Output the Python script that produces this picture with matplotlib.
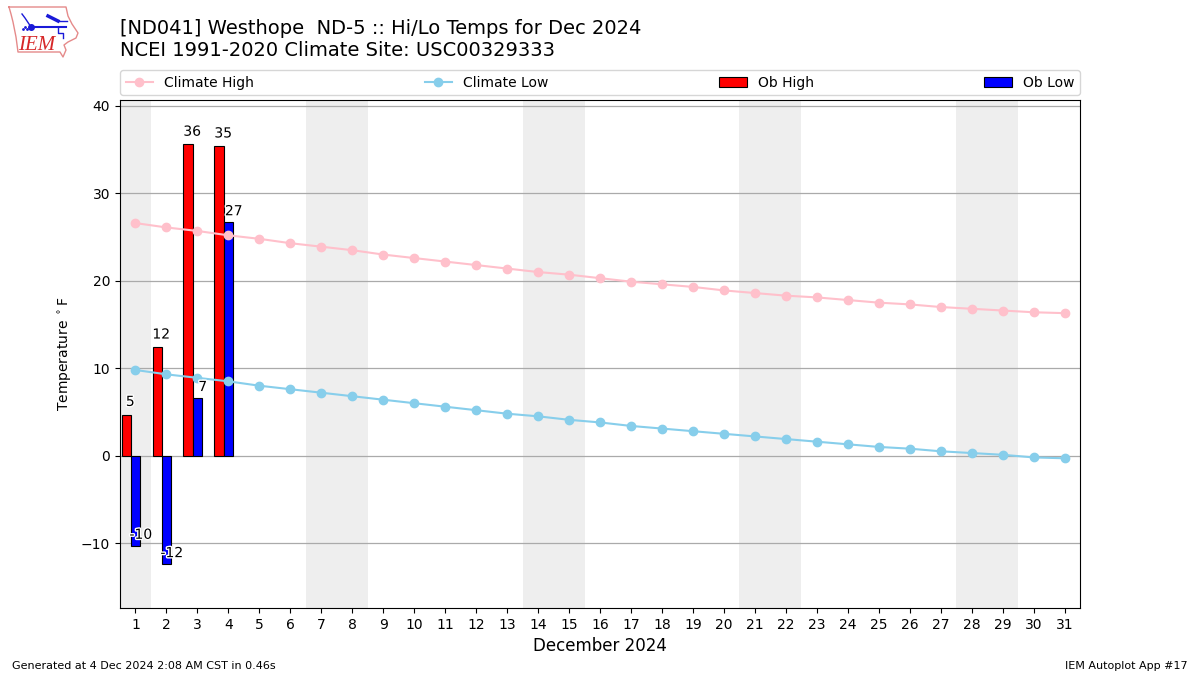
import matplotlib
matplotlib.use('Agg')
import matplotlib.pyplot as plt
import matplotlib.patheffects as pe

# Data
days = list(range(1, 32))
climate_high = [26.6, 26.1, 25.7, 25.2, 24.8, 24.3, 23.9, 23.5, 23.0, 22.6, 22.2,
                21.8, 21.4, 21.0, 20.7, 20.3, 19.9, 19.6, 19.3, 18.9, 18.6, 18.3,
                18.1, 17.8, 17.5, 17.3, 17.0, 16.8, 16.6, 16.4, 16.3]
climate_low = [9.8, 9.3, 8.9, 8.5, 8.0, 7.6, 7.2, 6.8, 6.4, 6.0, 5.6, 5.2, 4.8,
               4.5, 4.1, 3.8, 3.4, 3.1, 2.8, 2.5, 2.2, 1.9, 1.6, 1.3, 1.0, 0.8,
               0.5, 0.3, 0.1, -0.2, -0.3]
ob_days = [1, 2, 3, 4]
ob_high = [4.7, 12.4, 35.6, 35.4]
ob_low = [-10.3, -12.4, 6.6, 26.7]
weekends = [(0.5, 1.5), (6.5, 8.5), (13.5, 15.5), (20.5, 22.5), (27.5, 29.5)]

# Logo outline, in logo pixels
iowa_x = [9, 66, 68, 72, 78, 76, 68, 64, 66, 63, 60, 50, 18, 16, 13, 11, 9]
iowa_y = [7, 7, 16, 24, 33, 38, 42, 45, 50, 57, 52, 52, 52, 37, 22, 14, 7]

fig = plt.figure(figsize=(12, 6.75), dpi=100)
ax = fig.add_axes([120 / 1200, 1 - 607.8 / 675, 960 / 1200, 508 / 675])

for start, end in weekends:
    ax.axvspan(start, end, color='#eeeeee', lw=0, zorder=0)

ax.bar([d - 0.3 for d in ob_days], ob_high, width=0.3, color='r', edgecolor='k',
       linewidth=0.8, label='Ob High', zorder=2)
ax.bar(ob_days, ob_low, width=0.3, color='b', edgecolor='k',
       linewidth=0.8, label='Ob Low', zorder=2)
ax.plot(days, climate_high, color='pink', marker='o', ms=6, label='Climate High', zorder=3)
ax.plot(days, climate_low, color='skyblue', marker='o', ms=6, label='Climate Low', zorder=3)

glow = [pe.withStroke(linewidth=2, foreground='white')]
for d, hi, lo in zip(ob_days, ob_high, ob_low):
    ax.text(d - 0.17, hi + 0.65, f'{hi:.0f}', ha='center', va='bottom', fontsize=10,
            zorder=4, path_effects=glow)
    ax.text(d + 0.17, lo + 0.45, f'{lo:.0f}', ha='center', va='bottom', fontsize=10,
            zorder=4, path_effects=glow)

ax.set_xlim(0.5, 31.5)
ax.set_ylim(-17.4, 40.7)
ax.set_xticks(days)
ax.set_yticks([-10, 0, 10, 20, 30, 40])
ax.yaxis.grid(True, color='#aaaaaa', lw=0.9)
ax.set_axisbelow(True)
ax.set_xlabel('December 2024', fontsize=12)
ax.set_ylabel(r'Temperature $^\circ$F', fontsize=10, labelpad=5)

handles, labels = ax.get_legend_handles_labels()
order = [labels.index(n) for n in ['Climate High', 'Climate Low', 'Ob High', 'Ob Low']]
ax.legend([handles[i] for i in order], [labels[i] for i in order], ncol=4, mode='expand',
          loc='lower left', bbox_to_anchor=(0, 1.009, 1, 0.05), borderaxespad=0, fontsize=10)

fig.text(120 / 1200, 1 - 29 / 675, '[ND041] Westhope  ND-5 :: Hi/Lo Temps for Dec 2024',
         fontsize=14, va='center')
fig.text(120 / 1200, 1 - 51 / 675, 'NCEI 1991-2020 Climate Site: USC00329333',
         fontsize=14, va='center')
fig.text(12 / 1200, 1 - 666 / 675, 'Generated at 4 Dec 2024 2:08 AM CST in 0.46s',
         fontsize=8, va='center')
fig.text(1188 / 1200, 1 - 666 / 675, 'IEM Autoplot App #17', fontsize=8, va='center', ha='right')

# IEM logo
logo = fig.add_axes([0, 1 - 60 / 675, 90 / 1200, 60 / 675])
logo.set_xlim(0, 90)
logo.set_ylim(60, 0)
logo.axis('off')
blue = '#1a1ad8'
logo.plot(iowa_x, iowa_y, color='#e58a8a', lw=1)
logo.plot([31, 66], [27, 27], color=blue, lw=1.5)
logo.plot([31], [27], 'o', color=blue, ms=4)
logo.plot([48, 58], [16, 21], color=blue, lw=2.5)
logo.plot([58, 67], [21, 21], color=blue, lw=1)
logo.plot([58, 58, 63, 63], [27, 33, 33, 38], color=blue, lw=1)
logo.plot([22, 25, 31], [14, 18, 27], color=blue, lw=1)
logo.plot([23, 25, 27], [29, 27, 29], '.', color=blue, ms=2)
logo.text(37, 45, 'IEM', color='#d62728', fontsize=15, family='Liberation Serif',
          style='italic', ha='center', va='center')

fig.savefig('out.png', dpi=100)
